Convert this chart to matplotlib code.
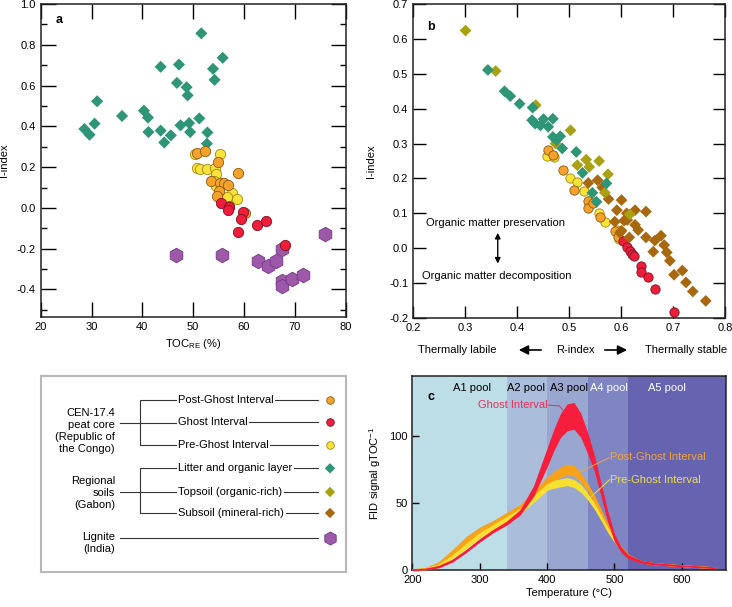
import numpy as np
import matplotlib.pyplot as plt
from matplotlib.ticker import MultipleLocator, FormatStrFormatter
from matplotlib.patches import FancyArrowPatch

plt.rcParams['font.family'] = ['Liberation Sans', 'DejaVu Sans']
plt.rcParams['font.size'] = 8
plt.rcParams['axes.unicode_minus'] = False
plt.rcParams['mathtext.default'] = 'regular'

# colours
c_post = '#f5a22c'
c_ghost = '#ee1d3c'
c_pre = '#f9e23c'
c_litter = '#2e9576'
c_top = '#a9a013'
c_sub = '#a7680f'
c_lig = '#9d58a8'

# ---- panel a: TOC_RE vs I-index
a_litter_x = [28.6, 29.6, 30.6, 31.1, 36.0, 40.3, 41.1, 41.2, 43.6, 43.6, 44.3, 45.6, 46.8,
              47.2, 47.5, 48.7, 48.9, 49.2, 49.4, 51.2, 51.6, 52.8, 52.7, 53.9, 54.2, 55.8]
a_litter_y = [0.387, 0.359, 0.413, 0.523, 0.451, 0.477, 0.443, 0.372, 0.692, 0.379, 0.321, 0.356, 0.613,
              0.703, 0.405, 0.592, 0.552, 0.416, 0.372, 0.439, 0.856, 0.370, 0.315, 0.682, 0.628, 0.736]
a_pre_x = [50.4, 55.3, 50.8, 51.4, 52.7, 54.3, 54.4, 54.0, 55.3, 57.7, 58.7, 56.6, 54.5]
a_pre_y = [0.266, 0.266, 0.195, 0.192, 0.192, 0.195, 0.164, 0.130, 0.105, 0.075, 0.043, 0.052, 0.105]
a_post_x = [50.7, 52.4, 54.8, 58.8, 53.5, 55.2, 56.0, 56.9, 55.0, 54.7, 57.0, 60.2]
a_post_y = [0.269, 0.280, 0.223, 0.169, 0.133, 0.120, 0.120, 0.110, 0.085, 0.056, 0.010, -0.023]
a_ghost_x = [55.5, 57.1, 56.8, 59.7, 59.4, 58.8, 62.5, 64.3, 68.0]
a_ghost_y = [0.023, 0.003, -0.010, -0.021, -0.054, -0.120, -0.085, -0.066, -0.184]
a_lig_x = [46.6, 55.6, 62.8, 64.7, 66.3, 67.5, 67.4, 67.4, 69.5, 71.6, 76.0]
a_lig_y = [-0.233, -0.233, -0.261, -0.284, -0.261, -0.200, -0.359, -0.384, -0.351, -0.331, -0.130]

# ---- panel b: R-index vs I-index
b_litter_x = [0.344, 0.376, 0.387, 0.405, 0.430, 0.429, 0.435, 0.445, 0.451, 0.460, 0.469, 0.469,
              0.476, 0.483, 0.487, 0.514, 0.526, 0.545, 0.553, 0.572]
b_litter_y = [0.511, 0.450, 0.436, 0.414, 0.403, 0.367, 0.357, 0.352, 0.370, 0.348, 0.371, 0.319,
              0.310, 0.321, 0.286, 0.276, 0.216, 0.159, 0.133, 0.186]
b_top_x = [0.301, 0.359, 0.436, 0.474, 0.503, 0.516, 0.533, 0.539, 0.558, 0.575, 0.569, 0.617]
b_top_y = [0.624, 0.508, 0.410, 0.300, 0.338, 0.238, 0.254, 0.233, 0.250, 0.212, 0.159, 0.097]
b_sub_x = [0.537, 0.555, 0.564, 0.576, 0.601, 0.592, 0.611, 0.627, 0.648, 0.612, 0.588, 0.606,
           0.627, 0.633, 0.598, 0.601, 0.616, 0.648, 0.665, 0.677, 0.683, 0.662, 0.688, 0.694,
           0.702, 0.718, 0.725, 0.738, 0.763]
b_sub_y = [0.187, 0.195, 0.174, 0.141, 0.138, 0.109, 0.100, 0.109, 0.105, 0.081, 0.076, 0.079,
           0.067, 0.052, 0.044, 0.050, 0.031, 0.031, 0.022, 0.036, 0.009, -0.010, -0.012, -0.036,
           -0.076, -0.064, -0.098, -0.124, -0.151]
b_pre_x = [0.457, 0.471, 0.502, 0.515, 0.528, 0.542, 0.558, 0.569, 0.593, 0.597]
b_pre_y = [0.264, 0.262, 0.200, 0.190, 0.165, 0.138, 0.102, 0.076, 0.052, 0.026]
b_post_x = [0.459, 0.470, 0.488, 0.509, 0.537, 0.537, 0.546, 0.560, 0.588, 0.595]
b_post_y = [0.281, 0.268, 0.224, 0.167, 0.135, 0.114, 0.129, 0.090, 0.050, 0.031]
b_ghost_x = [0.604, 0.612, 0.617, 0.622, 0.625, 0.638, 0.638, 0.651, 0.666, 0.701]
b_ghost_y = [0.022, 0.003, -0.007, -0.016, -0.022, -0.052, -0.067, -0.083, -0.117, -0.182]

# ---- panel c: thermograms (centre of trace and half-width of the noise)
temp = [200, 220, 240, 260, 280, 300, 320, 340, 360, 380, 400, 410, 420, 430, 440,
        450, 460, 470, 480, 490, 500, 510, 520, 540, 560, 600, 650]
ghost_sig = [0, 0.5, 2.5, 7, 14, 22, 29, 35, 43, 59, 84, 97, 108, 114, 115,
             108, 95, 80, 60, 40, 24, 15, 10, 6, 4.5, 3, 1.5]
ghost_hw = [0.5, 0.5, 0.8, 1, 1, 1.2, 1.2, 1.5, 2, 4, 7, 8, 9, 10, 10,
            9, 8, 6, 5, 4, 3, 2, 1.5, 1, 0.8, 0.6, 0.5]
post_sig = [0, 1, 5, 13, 22, 29, 34, 40, 46, 56, 66, 70, 73, 75, 74,
            69, 62, 53, 43, 33, 24, 16, 11, 6, 4.5, 3, 1.5]
post_hw = [0.5, 0.8, 1.5, 2.5, 3, 3, 3, 3, 3, 3, 3.5, 3.5, 4, 4, 4,
           3.5, 3, 3, 2.5, 2, 2, 1.5, 1, 0.8, 0.6, 0.5, 0.5]
pre_sig = [0, 0.7, 3.5, 10, 18, 26, 32, 38, 44, 53, 62, 64, 65, 66, 64.5,
           61, 55, 48, 39, 30, 22, 15, 10, 6, 4.5, 3, 1.5]
pre_hw = [0.5, 0.6, 1, 1.5, 2, 2, 2, 2, 2, 2.5, 2.5, 3, 3, 3, 3,
          3, 2.5, 2.5, 2, 2, 1.5, 1.5, 1, 0.8, 0.6, 0.5, 0.5]
pool_edges = [200, 340, 400, 460, 520, 665]
pool_names = ['A1 pool', 'A2 pool', 'A3 pool', 'A4 pool', 'A5 pool']
pool_label_t = [288, 368, 432, 492, 578]
pool_colors = ['#bddde7', '#aabedb', '#98a6d0', '#7f84c2', '#6663b0']
pool_text = ['black', 'black', 'black', 'white', 'white']

W, H = 732, 607
fig = plt.figure(figsize=(W / 100, H / 100), dpi=100)


def box(l, t, r, b):
    return [l / W, 1 - b / H, (r - l) / W, (b - t) / H]


def style(ax):
    for s in ax.spines.values():
        s.set_linewidth(1.1)
        s.set_color('#222222')


# ===== panel a
ax = fig.add_axes(box(40.7, 4, 345.7, 317))
ax.scatter(a_litter_x, a_litter_y, marker='D', s=38, c=c_litter, edgecolors='none', zorder=2)
ax.scatter(a_lig_x, a_lig_y, marker='h', s=110, c=c_lig, edgecolors='#74378a', linewidths=0.6, zorder=3)
ax.scatter(a_pre_x, a_pre_y, marker='o', s=55, c=c_pre, edgecolors='#a08a10', linewidths=0.6, zorder=4)
ax.scatter(a_post_x, a_post_y, marker='o', s=55, c=c_post, edgecolors='#8a5a10', linewidths=0.6, zorder=5)
ax.scatter(a_ghost_x, a_ghost_y, marker='o', s=55, c=c_ghost, edgecolors='#801020', linewidths=0.6, zorder=6)
ax.set_xlim(20, 80)
ax.set_ylim(-0.535, 1.0)
ax.xaxis.set_major_locator(MultipleLocator(10))
ax.yaxis.set_major_locator(MultipleLocator(0.2))
ax.yaxis.set_minor_locator(MultipleLocator(0.1))
ax.yaxis.set_major_formatter(FormatStrFormatter('%.1f'))
ax.tick_params(which='major', direction='in', length=10.5, width=1.0, top=True, right=True, labelsize=8)
ax.tick_params(which='minor', direction='in', length=4.5, width=1.0, top=True, right=True)
ax.set_xlabel('TOC$_{RE}$ (%)', fontsize=8, labelpad=4)
ax.set_ylabel('I-index', fontsize=8)
ax.yaxis.set_label_coords(-0.105, 0.5)
ax.text(23.0, 0.92, 'a', fontsize=9, fontweight='bold', va='center')
style(ax)

# ===== panel b
bx = fig.add_axes(box(413, 4, 725, 318))
bx.scatter(b_pre_x, b_pre_y, marker='o', s=45, c=c_pre, edgecolors='#a08a10', linewidths=0.6, zorder=2)
bx.scatter(b_post_x, b_post_y, marker='o', s=45, c=c_post, edgecolors='#8a5a10', linewidths=0.6, zorder=3)
bx.scatter(b_ghost_x, b_ghost_y, marker='o', s=45, c=c_ghost, edgecolors='#801020', linewidths=0.6, zorder=4)
bx.scatter(b_sub_x, b_sub_y, marker='D', s=36, c=c_sub, edgecolors='none', zorder=5)
bx.scatter(b_top_x, b_top_y, marker='D', s=36, c=c_top, edgecolors='none', zorder=6)
bx.scatter(b_litter_x, b_litter_y, marker='D', s=36, c=c_litter, edgecolors='none', zorder=7)
bx.set_xlim(0.2, 0.8)
bx.set_ylim(-0.2, 0.7)
bx.xaxis.set_major_locator(MultipleLocator(0.1))
bx.yaxis.set_major_locator(MultipleLocator(0.1))
bx.xaxis.set_major_formatter(FormatStrFormatter('%.1f'))
bx.yaxis.set_major_formatter(FormatStrFormatter('%.1f'))
bx.tick_params(direction='in', length=9, width=1.0, top=True, right=True, labelsize=8)
bx.set_ylabel('I-index', fontsize=8)
bx.yaxis.set_label_coords(-0.12, 0.5)
bx.text(0.227, 0.635, 'b', fontsize=9, fontweight='bold', va='center')
bx.text(0.225, 0.072, 'Organic matter preservation', fontsize=8, va='center')
bx.text(0.218, -0.079, 'Organic matter decomposition', fontsize=8, va='center')
bx.annotate('', xy=(0.363, 0.052), xytext=(0.363, -0.052),
            arrowprops=dict(arrowstyle='<|-|>', color='black', lw=1.0, mutation_scale=8))
style(bx)

# R-index caption under panel b
fig.text(418 / W, 1 - 350 / H, 'Thermally labile', fontsize=8, va='center')
fig.text(575 / W, 1 - 350 / H, 'R-index', fontsize=8, va='center', ha='center')
fig.text(727 / W, 1 - 350 / H, 'Thermally stable', fontsize=8, va='center', ha='right')
fig.patches.append(FancyArrowPatch(
    (544 / W, 1 - 350 / H), (516 / W, 1 - 350 / H), transform=fig.transFigure,
    arrowstyle='-|>', mutation_scale=14, color='black', lw=1.2))
fig.patches.append(FancyArrowPatch(
    (602 / W, 1 - 350 / H), (630 / W, 1 - 350 / H), transform=fig.transFigure,
    arrowstyle='-|>', mutation_scale=14, color='black', lw=1.2))

# ===== panel c
cx = fig.add_axes(box(412.3, 375.7, 725.7, 570))
for i in range(5):
    cx.axvspan(pool_edges[i], pool_edges[i + 1], color=pool_colors[i], lw=0, zorder=0)
    cx.text(pool_label_t[i], 135.5, pool_names[i], ha='center', va='center',
            color=pool_text[i], fontsize=8)
t = np.array(temp)
for sig, hw, col, z in [(post_sig, post_hw, '#f7a21b', 2), (pre_sig, pre_hw, '#f8e030', 3),
                        (ghost_sig, ghost_hw, '#f51f3d', 4)]:
    sig = np.array(sig)
    hw = np.array(hw)
    cx.fill_between(t, sig - hw, sig + hw, color=col, lw=0, zorder=z)
    cx.plot(t, sig, color=col, lw=1.0, zorder=z)
cx.set_xlim(200, 665)
cx.set_ylim(0, 145)
cx.set_xticks([200, 300, 400, 500, 600])
cx.set_yticks([0, 50, 100])
cx.tick_params(direction='in', length=5, width=1.0, labelsize=8)
cx.set_xlabel('Temperature (°C)', fontsize=8, labelpad=2)
cx.set_ylabel('FID signal gTOC$^{-1}$', fontsize=8)
cx.yaxis.set_label_coords(-0.095, 0.5)
cx.text(223, 129, 'c', fontsize=9, fontweight='bold', va='center')
cx.text(401, 123, 'Ghost Interval', color='#e6305a', fontsize=8, ha='right', va='center')
cx.plot([402, 418, 426], [123, 122.5, 118], color='#e6305a', lw=0.7, zorder=5)
cx.text(494, 84, 'Post-Ghost Interval', color='#f3a33c', fontsize=8, ha='left', va='center')
cx.plot([493, 448], [84, 73], color='#f3a33c', lw=0.7, zorder=5)
cx.text(494, 67.5, 'Pre-Ghost Interval', color='#f2de4a', fontsize=8, ha='left', va='center')
cx.plot([493, 466], [67.5, 55], color='#f2de4a', lw=0.7, zorder=5)
style(cx)

# ===== legend box (coordinates in image pixels)
lg = fig.add_axes(box(40.7, 375.7, 345.7, 571.7))
lg.set_xlim(40.7, 345.7)
lg.set_ylim(571.7, 375.7)
lg.set_xticks([])
lg.set_yticks([])
for s in lg.spines.values():
    s.set_color('#b8b8b8')
    s.set_linewidth(1.5)

lk = dict(color='#333333', lw=0.8)
lg.text(115, 431, 'CEN-17.4\npeat core\n(Republic of\nthe Congo)', ha='right', va='center',
        linespacing=1.25, fontsize=8)
lg.text(115, 493, 'Regional\nsoils\n(Gabon)', ha='right', va='center', linespacing=1.25, fontsize=8)
lg.text(115, 543, 'Lignite\n(India)', ha='right', va='center', linespacing=1.25, fontsize=8)
lg.plot([120, 175.7], [423.3, 423.3], **lk)
lg.plot([175.7, 140, 140, 175.7], [400, 400, 445, 445], **lk)
lg.plot([120, 175.7], [492, 492], **lk)
lg.plot([175.7, 140, 140, 175.7], [468.3, 468.3, 513.3, 513.3], **lk)
lg.plot([120, 318.3], [537.7, 537.7], **lk)

entries = [('Post-Ghost Interval', 400, 'o', c_post, '#8a5a10', 30),
           ('Ghost Interval', 422.3, 'o', c_ghost, '#801020', 30),
           ('Pre-Ghost Interval', 444.7, 'o', c_pre, '#a08a10', 30),
           ('Litter and organic layer', 468.3, 'D', c_litter, 'none', 28),
           ('Topsoil (organic-rich)', 492, 'D', c_top, 'none', 28),
           ('Subsoil (mineral-rich)', 513, 'D', c_sub, 'none', 28)]
fig.canvas.draw()
r = fig.canvas.get_renderer()
for name, y, m, fc, ec, s in entries:
    tx = lg.text(177.7, y, name, ha='left', va='center', fontsize=8)
    bb = tx.get_window_extent(renderer=r)
    xend = lg.transData.inverted().transform((bb.x1, 0))[0]
    lg.plot([xend + 2, 318.3], [y, y], **lk)
    lg.scatter([330], [y], marker=m, s=s, c=fc, edgecolors=ec, linewidths=0.6, zorder=3)
lg.scatter([330], [538], marker='h', s=90, c=c_lig, edgecolors='#74378a', linewidths=0.6, zorder=3)

fig.savefig('out.png', dpi=100)
